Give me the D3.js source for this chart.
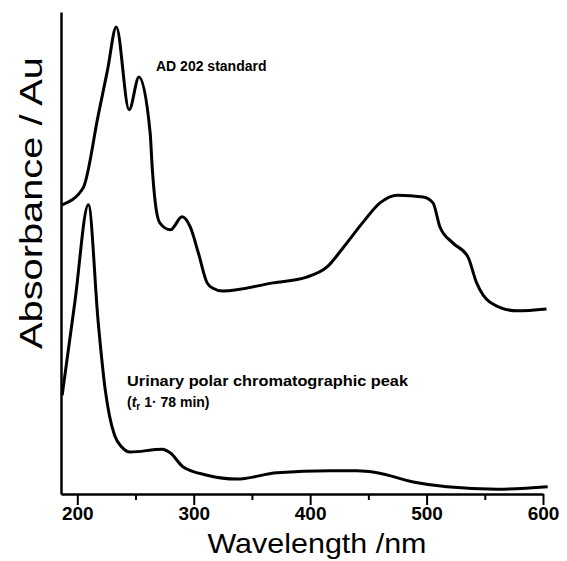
<!DOCTYPE html>
<html>
<head>
<meta charset="utf-8">
<script src="https://cdn.jsdelivr.net/npm/d3@7"></script>
<style>
  body { margin: 0; background: #fff; }
  text { font-family: "Liberation Sans", Arial, sans-serif; fill: #000; }
</style>
</head>
<body>
<script>
// AD202 standard spectrum (wavelength nm, absorbance a.u.)
var standardWl  = [187, 205, 218, 226, 233.5, 244.5, 253, 262.5, 264.5, 267, 271, 280, 290, 297, 304, 311.5, 316.5, 325, 368, 397, 414.5, 428, 445.5, 460, 475, 497, 505.5, 511.5, 522.5, 535.5, 543, 554.5, 577.5, 603];
var standardAbs = [0.600, 0.635, 0.786, 0.880, 0.969, 0.797, 0.865, 0.751, 0.672, 0.604, 0.562, 0.548, 0.575, 0.554, 0.500, 0.438, 0.427, 0.421, 0.438, 0.450, 0.471, 0.510, 0.564, 0.604, 0.620, 0.616, 0.604, 0.554, 0.521, 0.492, 0.438, 0.398, 0.380, 0.384];

// urinary polar chromatographic peak spectrum
var urineWl  = [187, 198, 209.5, 218, 224, 227.5, 232, 238, 245.5, 273, 280, 291, 311.5, 337, 371.5, 417, 440, 457.5, 488.5, 517.5, 560.5, 604];
var urineAbs = [0.205, 0.400, 0.600, 0.355, 0.216, 0.164, 0.122, 0.098, 0.087, 0.093, 0.085, 0.056, 0.039, 0.031, 0.044, 0.048, 0.048, 0.044, 0.025, 0.015, 0.010, 0.015];

var majorTicks = [200, 300, 400, 500, 600];
var minorTicks = [250, 350, 450, 550];

var svg = d3.select("body").append("svg")
    .attr("width", 567)
    .attr("height", 561);

var x = d3.scaleLinear().domain([186, 600]).range([61, 543]);
var y = d3.scaleLinear().domain([0, 1]).range([494, 12]);

// x axis
var xAxis = svg.append("g")
    .attr("transform", "translate(0,494)")
    .call(d3.axisBottom(x).tickValues(majorTicks).tickSize(11).tickSizeOuter(0).tickPadding(2));
xAxis.select(".domain").attr("stroke-width", 2.5);
xAxis.selectAll(".tick line").attr("stroke-width", 2);
xAxis.selectAll(".tick text")
    .style("font-family", "'Liberation Sans', Arial, sans-serif")
    .style("font-size", "19px")
    .style("font-weight", "bold");

var minor = svg.append("g")
    .attr("transform", "translate(0,494)")
    .call(d3.axisBottom(x).tickValues(minorTicks).tickSize(6).tickFormat(""));
minor.select(".domain").remove();
minor.selectAll(".tick line").attr("stroke-width", 2);

// y axis (no ticks)
var yAxis = svg.append("g")
    .attr("transform", "translate(61,0)")
    .call(d3.axisLeft(y).tickValues([]).tickSizeOuter(0));
yAxis.select(".domain").attr("stroke-width", 2.5);

var line = d3.line()
    .x(function(d) { return x(d[0]); })
    .y(function(d) { return y(d[1]); })
    .curve(d3.curveMonotoneX);

var series = [d3.zip(standardWl, standardAbs), d3.zip(urineWl, urineAbs)];

svg.selectAll("path.spectrum")
    .data(series)
  .enter().append("path")
    .attr("class", "spectrum")
    .attr("d", line)
    .attr("fill", "none")
    .attr("stroke", "#000")
    .attr("stroke-width", 3)
    .attr("stroke-linejoin", "round");

// labels
svg.append("text")
    .attr("x", 156).attr("y", 71)
    .style("font-size", "14px").style("font-weight", "bold")
    .text("AD 202 standard");

svg.append("text")
    .attr("x", 127).attr("y", 386)
    .style("font-size", "14px").style("font-weight", "bold")
    .attr("textLength", 281).attr("lengthAdjust", "spacingAndGlyphs")
    .text("Urinary polar chromatographic peak");

var t2 = svg.append("text")
    .attr("x", 127).attr("y", 407)
    .style("font-size", "14px").style("font-weight", "bold");
t2.append("tspan").text("(");
t2.append("tspan").style("font-style", "italic").text("t");
t2.append("tspan").attr("dy", 3).style("font-size", "10px").text("r");
t2.append("tspan").attr("dy", -3).text(" 1· 78 min)");

svg.append("text")
    .attr("x", 317).attr("y", 553)
    .attr("text-anchor", "middle")
    .style("font-size", "28px")
    .attr("textLength", 219).attr("lengthAdjust", "spacingAndGlyphs")
    .text("Wavelength /nm");

svg.append("text")
    .attr("transform", "translate(42,203) rotate(-90)")
    .attr("text-anchor", "middle")
    .style("font-size", "31px")
    .attr("textLength", 292).attr("lengthAdjust", "spacingAndGlyphs")
    .text("Absorbance / Au");
</script>
</body>
</html>
